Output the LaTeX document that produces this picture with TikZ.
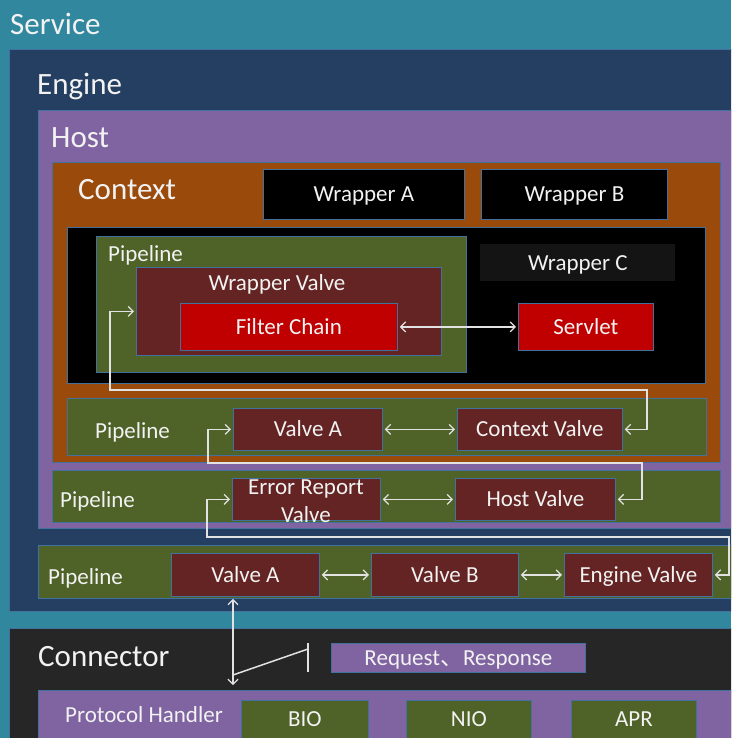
\documentclass[tikz,border=0pt]{standalone}
\usepackage{fontspec}
\setmainfont{Carlito}
\newfontfamily\cjk{Noto Sans CJK SC}
\usetikzlibrary{arrows.meta,positioning}

\definecolor{servicebg}{HTML}{31879E}
\definecolor{enginebg}{HTML}{243F61}
\definecolor{hostbg}{HTML}{8064A2}
\definecolor{contextbg}{HTML}{9A4A0B}
\definecolor{labelbg}{HTML}{141414}
\definecolor{pipebg}{HTML}{4F6228}
\definecolor{valvebg}{HTML}{632423}
\definecolor{chainbg}{HTML}{C00000}
\definecolor{connbg}{HTML}{262626}
\definecolor{edge}{HTML}{41719C}
\definecolor{fg}{HTML}{F2F2F2}
\definecolor{wire}{HTML}{E2E2E2}

\begin{document}
\begin{tikzpicture}[
  x=1pt,y=-1pt,
  font=\fontsize{23}{28}\selectfont,
  panel/.style={draw=edge,line width=0.8pt,inner sep=0pt,anchor=north west,text=fg,text height=17pt,text depth=2.3pt},
  title/.style={anchor=west,inner sep=0pt,text=fg,font=\fontsize{31}{36}\selectfont,text height=23pt,text depth=3pt},
  tag/.style={anchor=west,inner sep=0pt,text=fg,text height=17pt,text depth=2.3pt},
  flow/.style={{Straight Barb[length=5pt,width=10pt]}-{Straight Barb[length=5pt,width=10pt]},line width=1.2pt,draw=wire,shorten <=2pt,shorten >=2pt},
  wirebar/.style={line width=1.5pt,draw=wire}
]
% fixed frame, same size as the screenshot
\useasboundingbox (0,0) rectangle (731,738);
\clip (0,0) rectangle (731,738);

% helper: [text]{name}{colour}{x1}{y1}{x2}{y2}
\newcommand{\pane}[7][]{%
  \node[panel,fill=#3,minimum width={#6-#4},minimum height={#7-#5}] (#2) at (#4,#5) {#1};}

% service / engine / host
\fill[servicebg] (0,0) rectangle (731,738);
\node[title] (servicet) at (10,25) {Service};
\pane{engine}{enginebg}{9}{49}{745}{611}
\node[title] (enginet) at (37,85) {Engine};
\pane{host}{hostbg}{38}{110}{745}{528}
\node[title] (hostt) at (51,138) {Host};

% context with its wrappers
\pane{context}{contextbg}{52}{162}{720}{462}
\node[title] (contextt) at (78,190) {Context};
\pane[Wrapper A]{wrapa}{black}{263}{169}{464}{219}
\pane[Wrapper B]{wrapb}{black}{481}{169}{667}{219}
\pane{wrapc}{black}{67}{227}{705}{383}
\node[panel,draw=none,fill=labelbg,minimum width=195,minimum height=37] (wrapct) at (480,244) {Wrapper C};

% wrapper pipeline
\pane{wpipe}{pipebg}{96}{236}{466}{372}
\node[tag] (wpipet) at (108,254) {Pipeline};
\pane{wvalve}{valvebg}{136}{267}{441}{355}
\node[text=fg,inner sep=0pt,text height=17pt,text depth=2.3pt] (wvalvet) at (277,283) {Wrapper Valve};
\pane[Filter Chain]{filter}{chainbg}{180}{303}{397}{350}
\pane[Servlet]{servlet}{chainbg}{518}{303}{653}{350}

% context pipeline
\pane{cpipe}{pipebg}{67}{398}{706}{455}
\node[tag] (cpipet) at (95,431) {Pipeline};
\pane[Valve A]{cvalvea}{valvebg}{233}{408}{382}{450}
\pane[Context Valve]{cvalve}{valvebg}{457}{408}{622}{450}

% host pipeline
\pane{hpipe}{pipebg}{52}{470}{720}{522}
\node[tag] (hpipet) at (60,500) {Pipeline};
\pane{errvalve}{valvebg}{232}{478}{380}{520}
\node[text=fg,align=center,inner sep=0pt] (errvalvet) at (306,501) {Error Report\\Valve};
\pane[Host Valve]{hvalve}{valvebg}{455}{478}{615}{520}

% engine pipeline
\pane{epipe}{pipebg}{38}{545}{745}{598}
\node[tag] (epipet) at (48,577) {Pipeline};
\pane[Valve A]{evalvea}{valvebg}{171}{553}{319}{596}
\pane[Valve B]{evalveb}{valvebg}{371}{553}{518}{596}
\pane[Engine Valve]{evalve}{valvebg}{564}{553}{712}{596}

% connector
\pane{connector}{connbg}{9}{628}{745}{745}
\node[title] (connectort) at (38,656) {Connector};
\pane[Request{\cjk 、}Response]{reqres}{hostbg}{331}{643}{585}{672}
\pane{handler}{hostbg}{38}{690}{745}{745}
\node[tag] (handlert) at (65,715) {Protocol Handler};
\pane[BIO]{bio}{pipebg}{241}{700}{368}{738}
\pane[NIO]{nio}{pipebg}{406}{700}{531}{738}
\pane[APR]{apr}{pipebg}{571}{700}{696}{738}

% flow between valves
\draw[flow] (filter.east) -- (servlet.west);
\draw[flow] (cvalvea.east) -- (cvalve.west);
\draw[flow] (errvalve.east) -- (hvalve.west);
\draw[flow] (evalvea.east) -- (evalveb.west);
\draw[flow] (evalveb.east) -- (evalve.west);

% hand-over from one pipeline to the next
\coordinate (c1) at (647,390);
\coordinate (c2) at (110,390);
\draw[flow] (cvalve.east) -| (c1) -- (c2) |- (wvalve.west);
\coordinate (h1) at (642,463);
\coordinate (h2) at (208,463);
\draw[flow] (hvalve.east) -| (h1) -- (h2) |- (cvalvea.west);
\coordinate (e1) at (729,537);
\coordinate (e2) at (207,537);
\draw[flow] (evalve.east) -| (e1) -- (e2) |- (errvalve.west);

% connector link and switch
\coordinate (ph) at (233,687);
\draw[flow] (evalvea.south -| ph) -- (ph);
\coordinate (s1) at (233,675);
\coordinate (s2) at (308,649);
\coordinate (s3) at (308,643);
\coordinate (s4) at (308,672);
\draw[wirebar] (s1) -- (s2);
\draw[wirebar] (s3) -- (s4);
\end{tikzpicture}
\end{document}
